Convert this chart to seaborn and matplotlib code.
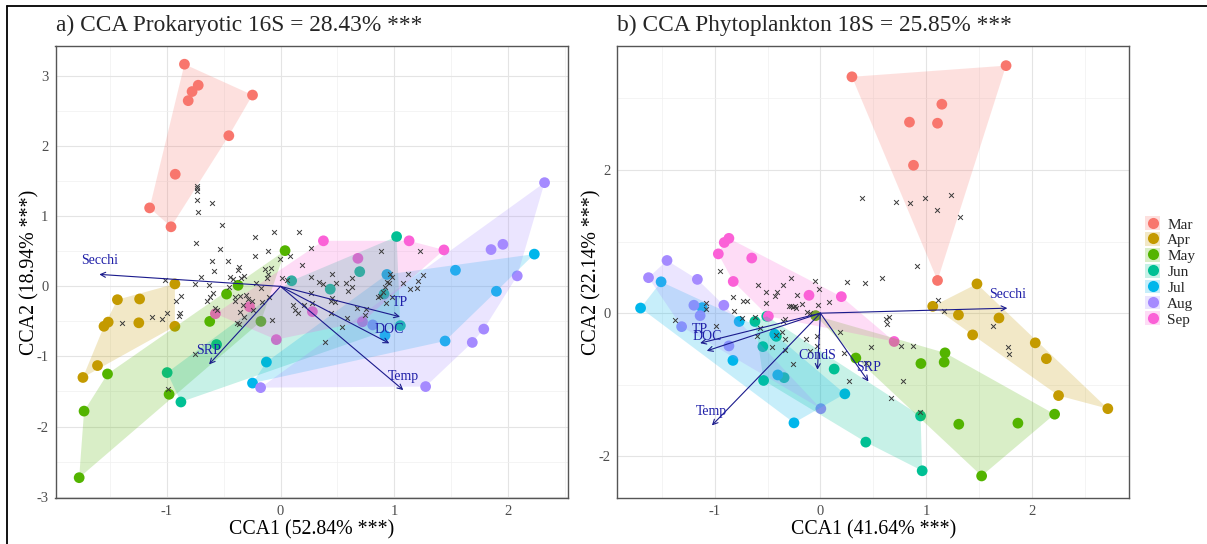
import numpy as np
import pandas as pd
import matplotlib
matplotlib.use("Agg")
import matplotlib.pyplot as plt
import seaborn as sns
from matplotlib.patches import Patch
from matplotlib.lines import Line2D

# ---------------- data ----------------
MONTHS = ["Mar", "Apr", "May", "Jun", "Jul", "Aug", "Sep"]
COLORS = ["#F8766D", "#C49A00", "#53B400", "#00C094", "#00B6EB", "#A58AFF", "#FB61D7"]

# Panel a: prokaryotic 16S site scores
a_mar_x = [-0.844, -0.723, -0.777, -0.811, -0.246, -0.454, -0.925, -1.150, -0.962]
a_mar_y = [3.17, 2.87, 2.78, 2.65, 2.73, 2.15, 1.60, 1.12, 0.85]
a_apr_x = [-0.928, -1.433, -1.238, -1.514, -1.551, -1.245, -0.928, -1.608, -1.736]
a_apr_y = [0.035, -0.19, -0.18, -0.51, -0.57, -0.52, -0.57, -1.13, -1.30]
a_may_x = [0.04, -0.474, -0.373, -0.622, -0.172, -1.520, -0.979, -1.726, -1.769]
a_may_y = [0.51, -0.11, 0.015, -0.50, -0.50, -1.25, -1.54, -1.78, -2.73]
a_jun_x = [1.02, 0.696, 0.437, 0.098, 0.91, 1.053, -0.562, -0.996, -0.875]
a_jun_y = [0.71, 0.21, -0.04, 0.08, -0.11, -0.56, -0.83, -1.23, -1.65]
a_jul_x = [2.23, 1.537, 1.897, 0.935, 1.446, 0.918, -0.124, -0.246]
a_jul_y = [0.46, 0.23, -0.07, 0.17, -0.78, -0.70, -1.08, -1.38]
a_aug_x = [2.32, 1.954, 1.85, 2.08, 1.786, 1.685, 1.275, -0.175, 0.81]
a_aug_y = [1.48, 0.60, 0.525, 0.15, -0.61, -0.80, -1.43, -1.445, -0.55]
a_sep_x = [0.377, 1.13, 1.436, 0.68, 0.28, -0.037, -0.272, -0.572, 0.72]
a_sep_y = [0.65, 0.65, 0.52, 0.40, -0.36, -0.76, -0.29, -0.39, -0.505]

# Panel a: species scores
a_spec_x = [-0.731, -0.731, -0.731, -0.731, -0.602, -0.722, -0.511, -0.745, -0.532, -0.227,
            -0.057, -0.11, -0.227, -0.599, -0.459, -0.582, -0.362, -0.376, -0.321, -0.444,
            -0.415, -0.35, -0.134, -0.081, -0.107, -0.121, -0.699, -1.018, -0.751, -0.628,
            -0.45, -0.215, -0.174, -0.877, -0.918, -0.596, -0.62, -0.643, -0.576, -0.561,
            -0.40, -0.402, -0.353, -0.30, -0.288, -0.253, -0.332, -0.356, -0.321, -0.385,
            -0.365, -0.239, -0.163, -0.101, -0.883, -0.995, -0.895, -1.044, -1.132, -0.077,
            -0.004,
            0.163, 0.265, 0.883, 1.223, 0.083, 0.19, 0.455, 0.265, 0.338, 0.37,
            0.488, 0.575, 0.63, 0.63, 0.596, 0.962, 0.983, 1.123, 1.255, 1.21,
            1.138, 1.197, 1.08, 0.933, 0.918, 0.956, 0.898, 0.875, 0.86, 0.977,
            0.265, 0.113, 0.127, 0.157, 0.207, 0.274, 0.45, 0.441, 0.479, 0.67,
            0.751, 0.743, 0.582, 0.538, 0.441, 0.927, 0.054, 0.01,
            -1.393, -0.75, -0.986, 0.394]
a_spec_y = [1.431, 1.398, 1.36, 1.231, 1.193, 1.064, 0.87, 0.622, 0.536, 0.70,
            0.775, 0.504, 0.432, 0.365, 0.361, 0.218, 0.28, 0.233, 0.147, 0.128,
            0.10, 0.114, 0.247, 0.261, 0.175, 0.114, 0.128, 0.09, 0.033, 0.019,
            -0.014, 0.052, -0.029, -0.138, -0.205, -0.1, -0.148, -0.21, -0.305, -0.338,
            -0.157, -0.21, -0.138, -0.128, -0.177, -0.21, -0.267, -0.362, -0.434, -0.528,
            -0.538, -0.338, -0.22, -0.148, -0.376, -0.376, -0.419, -0.462, -0.434, -0.486,
            0.385,
            0.77, 0.547, 0.51, 0.51, 0.43, 0.31, 0.175, 0.137, 0.066, 0.033,
            0.043, 0.043, 0.123, -0.005, -0.067, 0.175, 0.128, 0.175, 0.161, 0.076,
            -0.038, -0.029, 0.043, 0.066, -0.005, 0.043, -0.077, -0.138, -0.157, -0.148,
            -0.1, -0.267, -0.338, -0.385, -0.267, -0.243, -0.171, -0.21, -0.22, -0.305,
            -0.328, -0.41, -0.457, -0.576, -0.377, -0.243, 0.09, 0.114,
            -0.52, -0.965, -1.46, -0.79]

# Panel a: environmental vectors
a_env_names = ["Secchi", "TP", "DOC", "Temp", "SRP"]
a_env_x = [-1.592, 1.05, 0.956, 1.079, -0.628]
a_env_y = [0.171, -0.434, -0.813, -1.48, -1.113]

# Panel b: phytoplankton 18S site scores
b_mar_x = [0.298, 1.755, 1.148, 0.842, 1.107, 0.880, 1.107]
b_mar_y = [3.30, 3.456, 2.917, 2.667, 2.652, 2.065, 0.457]
b_apr_x = [1.480, 1.062, 1.305, 1.688, 1.439, 2.031, 2.136, 2.251, 2.717]
b_apr_y = [0.409, 0.096, -0.024, -0.067, -0.303, -0.414, -0.635, -1.150, -1.333]
b_may_x = [1.178, 1.170, 0.950, 0.335, 2.214, 1.867, 1.308, 1.524, -0.045]
b_may_y = [-0.554, -0.683, -0.703, -0.626, -1.410, -1.535, -1.550, -2.272, -0.034]
b_jun_x = [-0.619, -0.544, -0.417, -0.343, -0.537, 0.130, 0.429, 0.947, 0.962, -0.507]
b_jun_y = [-0.116, -0.467, -0.323, -0.900, -0.939, -0.780, -1.800, -1.434, -2.200, -0.043]
b_jul_x = [-1.700, -1.506, -1.118, -0.768, -0.827, -0.403, 0.231, -0.250, -0.432]
b_jul_y = [0.072, 0.438, 0.077, -0.116, -0.659, -0.862, -1.126, -1.531, -0.294]
b_aug_x = [-1.450, -1.625, -1.163, -1.196, -1.137, -1.312, -0.913, -0.865, 0.004]
b_aug_y = [0.736, 0.496, 0.472, 0.111, -0.034, -0.188, 0.111, -0.457, -1.333]
b_sep_x = [-0.865, -0.909, -0.965, -0.649, -0.824, -0.108, 0.198, -0.492, 0.697]
b_sep_y = [1.045, 0.987, 0.828, 0.770, 0.443, 0.250, 0.231, -0.043, -0.395]

# Panel b: species scores
b_spec_x = [0.397, 0.715, 0.851, 0.987, 1.233, 1.10, 1.315, 0.917, 0.586, 0.419,
            0.255, -0.052, -0.01, -0.276, -0.355, -0.219, 0.08, -0.02, -0.171, -0.244,
            -0.26, -0.228, -0.131, -0.1, 0.649, 0.617, 0.633, 1.107, 1.17, 0.185,
            -0.036, -0.134, -0.339, -0.339, 0.223, -0.263, -0.03, -0.1, 0.475, 0.876,
            0.766, 0.428, 0.27, 0.778, 0.665, -0.352, -0.361,
            -0.948, -0.592, -0.519, -0.408, -0.431, -0.831, -0.734, -0.692, -0.512, -1.078,
            -1.078, -0.819, -0.279, -0.298, -1.371, -0.983, -0.74, -0.614, -0.336, -0.573,
            -0.595, -0.418, -0.455,
            1.77, 1.781, 1.632, 0.943]
b_spec_y = [1.609, 1.554, 1.544, 1.609, 1.651, 1.447, 1.34, 0.652, 0.486, 0.425,
            0.434, 0.448, 0.341, 0.486, 0.393, 0.258, 0.153, 0.115, 0.125, 0.101,
            0.09, 0.078, 0.022, 0.008, -0.047, -0.083, -0.148, 0.185, 0.032, -0.264,
            -0.325, -0.357, -0.361, -0.509, -0.555, -0.703, -0.463, -0.532, -0.472, -0.454,
            -0.463, -0.694, -0.953, -0.944, -1.18, -0.116, -0.264,
            0.583, 0.393, 0.30, 0.30, 0.244, 0.23, 0.175, 0.175, 0.147, 0.147,
            0.064, 0.032, 0.10, 0.10, -0.097, -0.172, -0.07, -0.056, -0.083, -0.208,
            -0.315, -0.311, -0.472,
            -0.467, -0.573, -0.178, -1.38]

# Panel b: environmental vectors
b_env_names = ["Secchi", "TP", "DOC", "Temp", "CondS", "SRP"]
b_env_x = [1.767, -1.137, -1.074, -1.026, -0.028, 0.454]
b_env_y = [0.07, -0.418, -0.526, -1.567, -0.79, -0.954]

TITLE_A = "a) CCA Prokaryotic 16S = 28.43% ***"
TITLE_B = "b) CCA Phytoplankton 18S = 25.85% ***"
XLAB_A, YLAB_A = "CCA1 (52.84% ***)", "CCA2 (18.94% ***)"
XLAB_B, YLAB_B = "CCA1 (41.64% ***)", "CCA2 (22.14% ***)"

# ---------------- style ----------------
sns.set_style("white")
plt.rcParams["font.family"] = ["Liberation Serif", "DejaVu Serif"]
plt.rcParams["axes.unicode_minus"] = False

PAL = dict(zip(MONTHS, COLORS))
ARROW_COL = "#1a1a8c"


def sites_frame(xs, ys):
    rows = []
    for m, x, y in zip(MONTHS, xs, ys):
        for xi, yi in zip(x, y):
            rows.append((m, xi, yi))
    return pd.DataFrame(rows, columns=["month", "x", "y"])


def hull(px, py):
    pts = sorted(set(zip(px, py)))
    if len(pts) < 3:
        return pts

    def cross(o, a, b):
        return (a[0] - o[0]) * (b[1] - o[1]) - (a[1] - o[1]) * (b[0] - o[0])

    lower, upper = [], []
    for p in pts:
        while len(lower) >= 2 and cross(lower[-2], lower[-1], p) <= 0:
            lower.pop()
        lower.append(p)
    for p in reversed(pts):
        while len(upper) >= 2 and cross(upper[-2], upper[-1], p) <= 0:
            upper.pop()
        upper.append(p)
    return lower[:-1] + upper[:-1]


def draw_panel(ax, sites, spec_x, spec_y, env_names, env_x, env_y,
               xlim, ylim, xmaj, xmin, ymaj, ymin, title, xlab, ylab):
    ax.set_xlim(*xlim)
    ax.set_ylim(*ylim)
    ax.set_xticks(xmaj)
    ax.set_xticks(xmin, minor=True)
    ax.set_yticks(ymaj)
    ax.set_yticks(ymin, minor=True)
    ax.grid(True, which="major", color="#E4E4E4", lw=0.8)
    ax.grid(True, which="minor", color="#F0F0F0", lw=0.5)
    ax.set_axisbelow(True)

    sns.scatterplot(data=sites, x="x", y="y", hue="month", palette=PAL,
                    hue_order=MONTHS, s=60, linewidth=0, legend=False, ax=ax,
                    zorder=2)
    for m in MONTHS:
        sub = sites[sites.month == m]
        h = hull(sub.x.tolist(), sub.y.tolist())
        ax.fill([p[0] for p in h], [p[1] for p in h], color=PAL[m],
                alpha=0.22, lw=0, zorder=3)

    spec = pd.DataFrame({"x": spec_x, "y": spec_y})
    sns.scatterplot(data=spec, x="x", y="y", marker="x", s=12, color="#3a3a3a",
                    linewidth=0.7, ax=ax, zorder=4, legend=False)

    for n, ex, ey in zip(env_names, env_x, env_y):
        ax.annotate("", xy=(ex, ey), xytext=(0, 0),
                    arrowprops=dict(arrowstyle="->", color=ARROW_COL, lw=0.8,
                                    shrinkA=0, shrinkB=0, mutation_scale=9),
                    zorder=5)
        ax.annotate(n, xy=(ex, ey), xytext=(0, 10), textcoords="offset points",
                    ha="center", va="center", fontsize=10, color="#1f1fa8",
                    zorder=6)

    for sp in ax.spines.values():
        sp.set_color("#555555")
        sp.set_linewidth(1.0)
    ax.tick_params(axis="both", which="major", length=3, width=0.8,
                   color="#333333", labelcolor="#4D4D4D", labelsize=10.5, pad=2)
    ax.tick_params(axis="both", which="minor", length=0)
    ax.set_xlabel(xlab, fontsize=14.3, color="black", labelpad=2)
    ax.set_ylabel(ylab, fontsize=14.3, color="black", labelpad=-2)
    ax.set_title(title, loc="left", fontsize=16.8, pad=11)


fig = plt.figure(figsize=(12.07, 5.44), dpi=100)
W, H = 1207.0, 544.0
ax_a = fig.add_axes([55.5 / W, 1 - 498 / H, 512.5 / W, 452 / H])
ax_b = fig.add_axes([617.3 / W, 1 - 498 / H, 512 / W, 452 / H])

sites_a = sites_frame([a_mar_x, a_apr_x, a_may_x, a_jun_x, a_jul_x, a_aug_x, a_sep_x],
                      [a_mar_y, a_apr_y, a_may_y, a_jun_y, a_jul_y, a_aug_y, a_sep_y])
sites_b = sites_frame([b_mar_x, b_apr_x, b_may_x, b_jun_x, b_jul_x, b_aug_x, b_sep_x],
                      [b_mar_y, b_apr_y, b_may_y, b_jun_y, b_jul_y, b_aug_y, b_sep_y])

draw_panel(ax_a, sites_a, a_spec_x, a_spec_y, a_env_names, a_env_x, a_env_y,
           (-1.977, 2.526), (-3.02, 3.43),
           [-1, 0, 1, 2], [-1.5, -0.5, 0.5, 1.5, 2.5],
           [-3, -2, -1, 0, 1, 2, 3], [-2.5, -1.5, -0.5, 0.5, 1.5, 2.5],
           TITLE_A, XLAB_A, YLAB_A)
draw_panel(ax_b, sites_b, b_spec_x, b_spec_y, b_env_names, b_env_x, b_env_y,
           (-1.92, 2.92), (-2.58, 3.73),
           [-1, 0, 1, 2], [-1.5, -0.5, 0.5, 1.5, 2.5],
           [-2, 0, 2], [-1, 1, 3],
           TITLE_B, XLAB_B, YLAB_B)

handles = [(Patch(facecolor=c, alpha=0.22, lw=0),
            Line2D([], [], ls="", marker="o", markersize=8, color=c, mec="none"))
           for c in COLORS]
fig.legend(handles, MONTHS, loc="center left",
           bbox_to_anchor=(1145 / W, 1 - 271.5 / H), frameon=False,
           fontsize=11, handlelength=1.0, handleheight=1.0,
           labelspacing=0.05, handletextpad=0.45, borderpad=0, borderaxespad=0)

# frame lines of the original screenshot
fig.add_artist(Line2D([7 / W, 1], [1 - 6 / H, 1 - 6 / H], color="black", lw=1.3))
fig.add_artist(Line2D([7 / W, 7 / W], [0, 1 - 6 / H], color="black", lw=1.3))

fig.savefig("out.png", dpi=100)
